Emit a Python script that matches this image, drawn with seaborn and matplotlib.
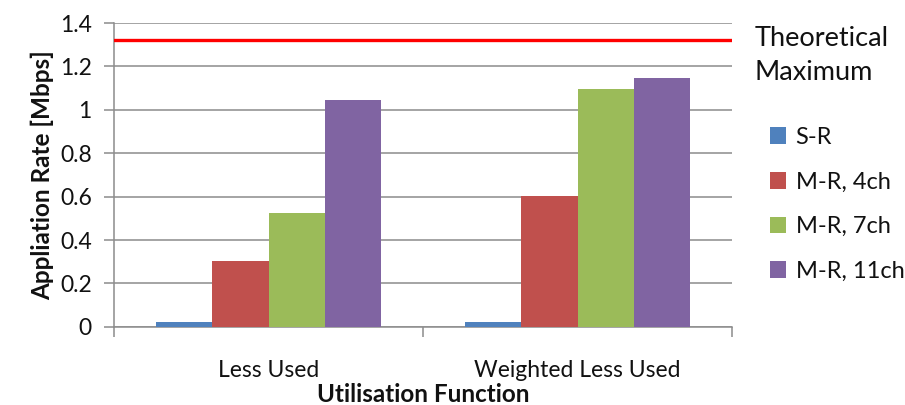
import matplotlib
matplotlib.use("Agg")
import matplotlib.pyplot as plt
import seaborn as sns
import pandas as pd
from matplotlib.ticker import FixedLocator

categories = ["Less Used", "Weighted Less Used"]
series = ["S-R", "M-R, 4ch", "M-R, 7ch", "M-R, 11ch"]
sr = [0.022, 0.022]
mr4 = [0.303, 0.603]
mr7 = [0.523, 1.095]
mr11 = [1.045, 1.147]
theoretical_max = 1.32
colors = ["#4F81BD", "#C0504D", "#9BBB59", "#8064A2"]
yticks = [0, 0.2, 0.4, 0.6, 0.8, 1.0, 1.2, 1.4]
ytick_labels = ["0", "0.2", "0.4", "0.6", "0.8", "1", "1.2", "1.4"]

rows = []
for s, vals in zip(series, [sr, mr4, mr7, mr11]):
    for c, v in zip(categories, vals):
        rows.append({"Utilisation Function": c, "series": s, "value": v})
df = pd.DataFrame(rows)

sns.set_style("white")
plt.rcParams["font.family"] = ["Lato", "DejaVu Sans"]

fig = plt.figure(figsize=(9.05, 4.05), dpi=100)
ax = fig.add_axes([0.126, 0.193, 0.683, 0.750])

sns.barplot(data=df, x="Utilisation Function", y="value", hue="series",
            hue_order=series, order=categories, palette=colors,
            saturation=1, width=0.73, ax=ax, errorbar=None, zorder=3,
            linewidth=0)

ax.axhline(theoretical_max, color="#FF0000", lw=2.4, zorder=4)

ax.set_ylim(0, 1.4)
ax.set_xlim(-0.5, 1.5)
ax.set_yticks(yticks)
ax.set_yticklabels(ytick_labels, fontsize=16.5, color="#111111")
ax.yaxis.grid(True, color="#8C8C8C", lw=1.1, zorder=0)
ax.set_axisbelow(True)

ax.xaxis.set_major_locator(FixedLocator([-0.5, 0.5, 1.5]))
ax.set_xticklabels(["", "", ""])
ax.xaxis.set_minor_locator(FixedLocator([0, 1]))
ax.set_xticklabels(categories, minor=True, fontsize=16.5, color="#111111")
ax.tick_params(axis="x", which="minor", length=0, pad=24)
ax.tick_params(axis="x", which="major", direction="out", length=7, width=1.1, color="#8C8C8C", bottom=True)
ax.tick_params(axis="y", direction="out", length=7, width=1.1, color="#8C8C8C", left=True, pad=9)

for side in ["top", "right"]:
    ax.spines[side].set_visible(False)
for side in ["left", "bottom"]:
    ax.spines[side].set_color("#8C8C8C")
    ax.spines[side].set_linewidth(1.1)

ax.set_xlabel("Utilisation Function", fontsize=17.5, fontweight="bold", labelpad=1, color="#111111")
ax.set_ylabel("Appliation Rate [Mbps]", fontsize=17.5, fontweight="bold", labelpad=4, color="#111111")

handles, labels = ax.get_legend_handles_labels()
ax.legend(handles, labels, loc="upper left", bbox_to_anchor=(0.84, 0.71),
          bbox_transform=fig.transFigure, frameon=False, fontsize=17,
          handlelength=0.7, handleheight=0.7, handletextpad=0.4,
          labelspacing=1.0, borderaxespad=0, labelcolor="#111111")

fig.text(0.834, 0.905, "Theoretical", fontsize=19.5, va="center", ha="left", color="#111111")
fig.text(0.834, 0.82, "Maximum", fontsize=19.5, va="center", ha="left", color="#111111")

fig.savefig("out.png", dpi=100)
